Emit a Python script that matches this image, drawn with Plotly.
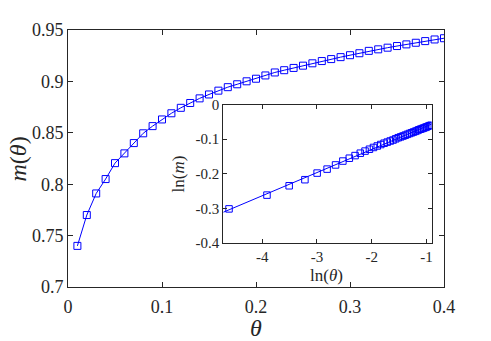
import numpy as np
import plotly.graph_objects as go

theta = [0.01, 0.02, 0.03, 0.04, 0.05, 0.06, 0.07, 0.08, 0.09, 0.10,
         0.11, 0.12, 0.13, 0.14, 0.15, 0.16, 0.17, 0.18, 0.19, 0.20,
         0.21, 0.22, 0.23, 0.24, 0.25, 0.26, 0.27, 0.28, 0.29, 0.30,
         0.31, 0.32, 0.33, 0.34, 0.35, 0.36, 0.37, 0.38, 0.39, 0.40]
m_vals = [0.740, 0.770, 0.791, 0.805, 0.8205, 0.830, 0.840, 0.8495, 0.8565, 0.863,
          0.869, 0.8743, 0.879, 0.8835, 0.8873, 0.891, 0.8944, 0.8972, 0.9001, 0.9026,
          0.9058, 0.9087, 0.9109, 0.9131, 0.9153, 0.9176, 0.9198, 0.9217, 0.9236, 0.9255,
          0.9274, 0.9297, 0.9312, 0.9328, 0.9344, 0.9360, 0.9376, 0.9392, 0.9408, 0.9420]

main_xticks = [0, 0.1, 0.2, 0.3, 0.4]
main_xticklabels = ["0", "0.1", "0.2", "0.3", "0.4"]
main_yticks = [0.7, 0.75, 0.8, 0.85, 0.9, 0.95]
main_yticklabels = ["0.7", "0.75", "0.8", "0.85", "0.9", "0.95"]
inset_xticks = [-4, -3, -2, -1]
inset_xticklabels = ["-4", "-3", "-2", "-1"]
inset_yticks = [0, -0.1, -0.2, -0.3, -0.4]
inset_yticklabels = ["0", "-0.1", "-0.2", "-0.3", "-0.4"]
inset_xrange = [-4.71, -0.905]

ln_theta = np.log(np.array(theta))
ln_m = np.log(np.array(m_vals))
coef = np.polyfit(ln_theta, ln_m, 1)
fit_x = np.array(inset_xrange)
fit_y = np.polyval(coef, fit_x)

BLUE = "#0000ff"
AX = "#262626"
FONT = "Liberation Serif"

fig = go.Figure()
fig.add_trace(go.Scatter(x=theta, y=m_vals, mode="lines+markers",
                         line=dict(color=BLUE, width=1),
                         marker=dict(symbol="square-open", size=7, color=BLUE, line=dict(width=1)),
                         xaxis="x", yaxis="y", showlegend=False))
fig.add_trace(go.Scatter(x=fit_x, y=fit_y, mode="lines",
                         line=dict(color=BLUE, width=1),
                         xaxis="x2", yaxis="y2", showlegend=False))
fig.add_trace(go.Scatter(x=ln_theta, y=ln_m, mode="markers",
                         marker=dict(symbol="square-open", size=6.5, color=BLUE, line=dict(width=1)),
                         xaxis="x2", yaxis="y2", showlegend=False))

common = dict(showgrid=False, zeroline=False, showline=True, linecolor=AX, linewidth=1,
              mirror="ticks", ticks="inside", tickcolor=AX, tickwidth=1)

fig.update_layout(
    width=483, height=333,
    margin=dict(l=60, r=47, t=17, b=54),
    paper_bgcolor="white", plot_bgcolor="white",
    font=dict(family=FONT, color=AX),
    xaxis=dict(domain=[0, 1], range=[0, 0.4], tickvals=main_xticks, ticktext=main_xticklabels,
               ticklen=5, ticklabelstandoff=3,
               tickfont=dict(size=18, family=FONT, color=AX), anchor="y", **common),
    yaxis=dict(domain=[0, 1], range=[0.7, 0.95], tickvals=main_yticks, ticktext=main_yticklabels,
               ticklen=5, tickfont=dict(size=18, family=FONT, color=AX), anchor="x", **common),
    xaxis2=dict(domain=[0.413, 0.967], range=inset_xrange, tickvals=inset_xticks,
                ticktext=inset_xticklabels, ticklen=4,
                tickfont=dict(size=15, family=FONT, color=AX), anchor="y2", **common),
    yaxis2=dict(domain=[0.1706, 0.710], range=[-0.4, 0], tickvals=inset_yticks,
                ticktext=inset_yticklabels, ticklen=4,
                tickfont=dict(size=15, family=FONT, color=AX), anchor="x2", **common),
    shapes=[dict(type="rect", xref="x2 domain", yref="y2 domain", x0=0, x1=1, y0=0, y1=1,
                 fillcolor="white", line=dict(width=0), layer="below")],
    annotations=[
        dict(text="<i>m</i>(<i>θ</i>)", xref="paper", yref="paper", x=-0.133, y=0.5,
             xanchor="center", yanchor="middle", textangle=-90, showarrow=False,
             font=dict(size=24, family=FONT, color=AX)),
        dict(text="<i>θ</i>", xref="paper", yref="paper", x=0.5, y=-0.16,
             xanchor="center", yanchor="middle", showarrow=False,
             font=dict(size=24, family=FONT, color=AX)),
        dict(text="ln(<i>m</i>)", xref="paper", yref="paper", x=0.294, y=0.44,
             xanchor="center", yanchor="middle", textangle=-90, showarrow=False,
             font=dict(size=17, family=FONT, color=AX)),
        dict(text="ln(<i>θ</i>)", xref="paper", yref="paper", x=0.688, y=0.0458,
             xanchor="center", yanchor="middle", showarrow=False,
             font=dict(size=17, family=FONT, color=AX)),
    ],
)

fig.write_html("out.html")
